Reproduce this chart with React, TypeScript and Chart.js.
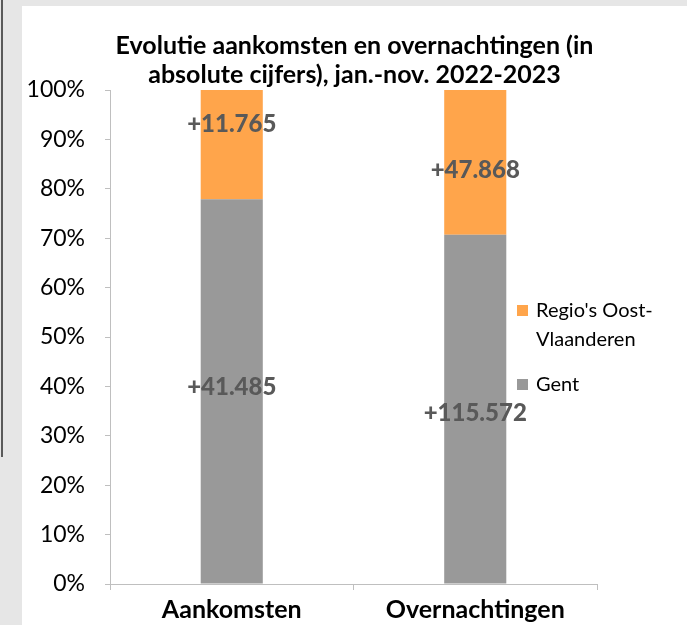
import React, { useEffect, useRef } from "react";
import { Chart, registerables } from "chart.js";

Chart.register(...registerables);

const categories = ["Aankomsten", "Overnachtingen"];
const gentValues = [41485, 115572];
const regioValues = [11765, 47868];
const gentName = "Gent";
const regioName = "Regio's Oost-Vlaanderen";
const regioLegendLines = ["Regio's Oost-", "Vlaanderen"];
const titleLines = [
  "Evolutie aankomsten en overnachtingen (in",
  "absolute cijfers), jan.-nov. 2022-2023",
];
const yTickStep = 10;

const FONT = "Lato";
const ORANGE = "#FFA54B";
const GRAY = "#999999";
const AXIS = "#BFBFBF";
const LABEL_COLOR = "#595959";

const formatCount = (v: number) =>
  "+" + String(v).replace(/\B(?=(\d{3})+(?!\d))/g, ".");

// label vertical nudges (px) per dataset/category, like manually moved Excel labels
const labelNudge: Record<string, number[]> = {
  gent: [-4, 4],
  regio: [-20, 8],
};

const overlayPlugin = {
  id: "overlay",
  afterDatasetsDraw(chart: any) {
    const ctx = chart.ctx;
    ctx.save();
    ctx.font = `900 24px ${FONT}`;
    ctx.fillStyle = LABEL_COLOR;
    ctx.textAlign = "center";
    ctx.textBaseline = "middle";
    chart.data.datasets.forEach((ds: any, di: number) => {
      const meta = chart.getDatasetMeta(di);
      meta.data.forEach((el: any, i: number) => {
        const counts = ds.counts as number[];
        const nudge = labelNudge[ds.key][i];
        const cy = (el.y + el.base) / 2 + nudge;
        ctx.fillText(formatCount(counts[i]), el.x, cy);
      });
    });
    ctx.restore();
  },
  afterDraw(chart: any) {
    const ctx = chart.ctx;
    const area = chart.chartArea;
    ctx.save();
    // title
    ctx.font = `bold 25px ${FONT}`;
    ctx.fillStyle = "#000000";
    ctx.textAlign = "center";
    ctx.textBaseline = "middle";
    const cx = chart.width / 2;
    titleLines.forEach((line, i) => {
      ctx.fillText(line, cx, 40 + i * 29);
    });
    // legend
    const lx = area.right - 80;
    ctx.font = `20px ${FONT}`;
    ctx.textAlign = "left";
    const items = [
      { color: ORANGE, lines: regioLegendLines, y: 305 },
      { color: GRAY, lines: [gentName], y: 379 },
    ];
    items.forEach((it) => {
      ctx.fillStyle = it.color;
      ctx.fillRect(lx, it.y - 6, 11, 11);
      ctx.fillStyle = "#000000";
      it.lines.forEach((l, j) => ctx.fillText(l, lx + 19, it.y + j * 29));
    });
    ctx.restore();
  },
};

export default function App() {
  const ref = useRef<HTMLCanvasElement>(null);

  useEffect(() => {
    if (!ref.current) return;
    const totals = gentValues.map((v, i) => v + regioValues[i]);
    const gentShare = gentValues.map((v, i) => (v / totals[i]) * 100);
    const regioShare = regioValues.map((v, i) => (v / totals[i]) * 100);

    const chart = new Chart(ref.current, {
      type: "bar",
      data: {
        labels: categories,
        datasets: [
          {
            label: gentName,
            key: "gent",
            counts: gentValues,
            data: gentShare,
            backgroundColor: GRAY,
            categoryPercentage: 1,
            barPercentage: 0.255,
          } as any,
          {
            label: regioName,
            key: "regio",
            counts: regioValues,
            data: regioShare,
            backgroundColor: ORANGE,
            categoryPercentage: 1,
            barPercentage: 0.255,
          } as any,
        ],
      },
      options: {
        responsive: false,
        animation: false,
        devicePixelRatio: 1,
        layout: { padding: { top: 84, right: 90, left: 0, bottom: 0 } },
        plugins: {
          legend: { display: false },
          title: { display: false },
          tooltip: { enabled: false },
        },
        scales: {
          x: {
            stacked: true,
            grid: {
              display: true,
              drawOnChartArea: false,
              tickLength: 6,
              color: AXIS,
              offset: true,
            },
            border: { color: AXIS, width: 1 },
            ticks: {
              font: { family: FONT, size: 25, weight: "bold" },
              color: "#000000",
              padding: 5,
            },
            afterFit: (s: any) => {
              s.height = 41;
            },
          },
          y: {
            stacked: true,
            min: 0,
            max: 100,
            ticks: {
              stepSize: yTickStep,
              callback: (v: any) => v + "%",
              font: { family: FONT, size: 23 },
              color: "#000000",
              padding: 20,
            },
            grid: {
              display: true,
              drawOnChartArea: false,
              tickLength: 5,
              color: AXIS,
            },
            border: { color: AXIS, width: 1 },
            afterFit: (s: any) => {
              s.width = 88;
            },
          },
        },
      } as any,
      plugins: [overlayPlugin],
    });
    return () => chart.destroy();
  }, []);

  return (
    <div
      style={{
        position: "absolute",
        left: 0,
        top: 0,
        width: 687,
        height: 625,
        background: "#E6E6E6",
        overflow: "hidden",
      }}
    >
      <div
        style={{
          position: "absolute",
          left: 1,
          top: 0,
          width: 2,
          height: 457,
          background: "#5A5A5A",
        }}
      />
      <div
        style={{
          position: "absolute",
          left: 22,
          top: 6,
          width: 665,
          height: 619,
          background: "#FFFFFF",
        }}
      >
        <canvas
          ref={ref}
          width={665}
          height={619}
          style={{ display: "block", width: 665, height: 619 }}
        />
      </div>
    </div>
  );
}
